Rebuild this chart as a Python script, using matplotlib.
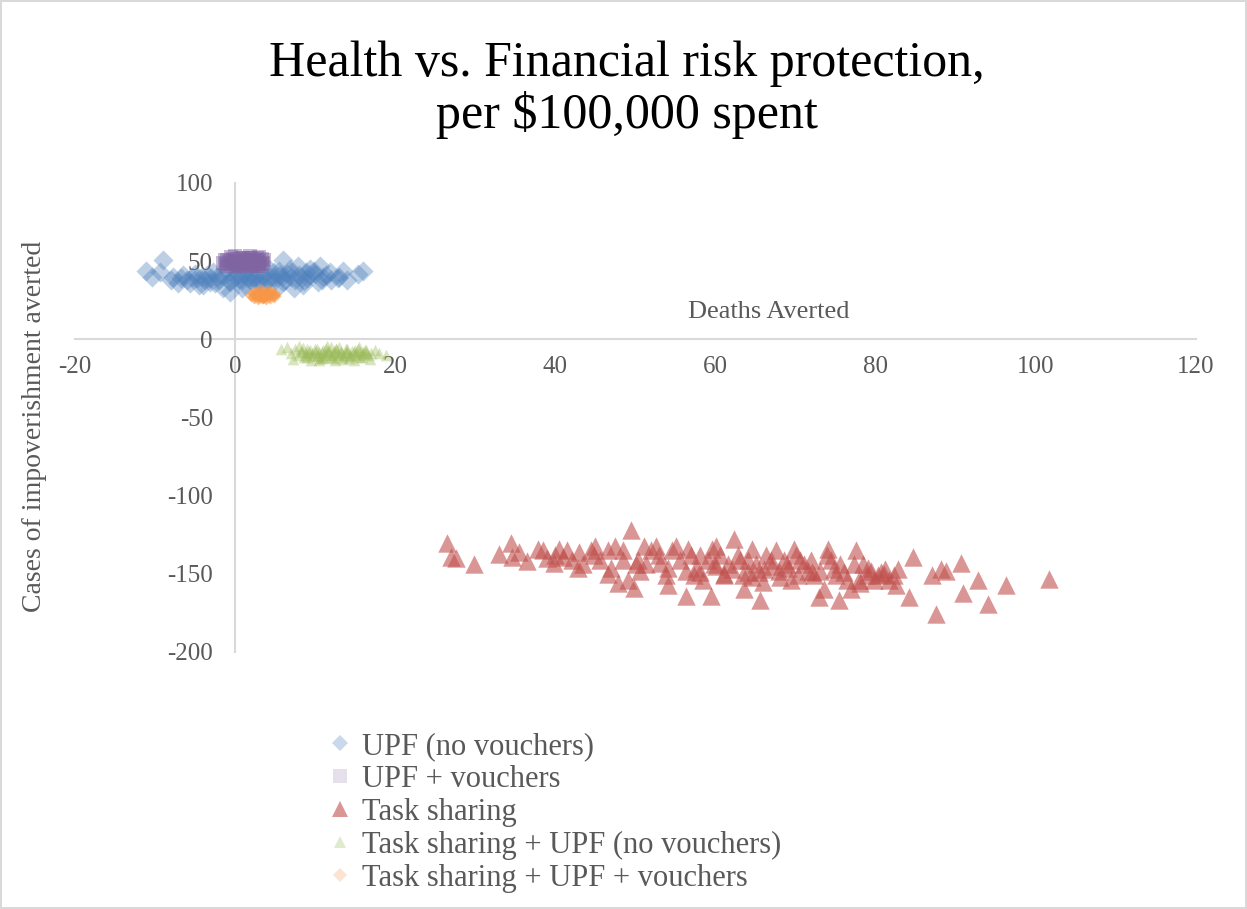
import matplotlib
matplotlib.use("Agg")
import matplotlib.pyplot as plt
from matplotlib.lines import Line2D

plt.rcParams['font.family'] = ['Liberation Serif', 'DejaVu Serif']

# ---------------- data ----------------
upf_x = [-11.1, -10.4, -9.0, -9.4, -7.8, -7.1, -6.5, -5.6, -4.8, -4.0, -3.1, -2.3, -1.5, -0.6, -0.6,
         0.5, 1.2, 2.3, 3.5, 4.8, 6.0, 7.8, 9.4, 10.6, 11.9, 12.8, 13.5, 15.3, 16.0, 8.5, 10.3, 7.3,
         6.0, 4.8, 3.5, 2.3, -5.0, -3.5, -2.0, -1.0, 0.0, 1.0, 2.0, 3.0, 4.0, 5.0, 6.5, 7.0, 8.0,
         9.0, 10.0, 11.0, -6.0, -4.5, -8.0, 1.5, 4.2, 5.5, -2.8, 12.0, 14.0, 6.8, 8.8, -1.2, 0.8,
         5.2, 9.8, -3.8, -2.5, -1.8, -0.3, 0.9, 1.9, 2.8, 3.9, 5.8, 6.2, 7.5, 8.3, 9.2, 10.8,
         -4.2, -3.0, -0.8, 0.4, 1.6, 2.6, 4.4, 5.6, 7.0, 8.6, 11.4, 13.0, -5.4, -6.8]
upf_y = [44, 40, 50.5, 43, 40, 36, 41, 36, 39, 34.5, 36.5, 40, 32.6, 30, 36.5,
         38, 35, 39, 34.5, 40, 50.5, 47, 45, 47, 43, 39, 44, 42, 44, 34.5, 36.5, 32.6,
         36.5, 43, 41, 42, 42, 41, 38, 42, 40, 41, 37, 38, 37, 38, 42, 40, 41,
         39, 42, 40, 38, 35, 38, 44, 45, 44, 43, 38, 38, 45, 43, 45, 33,
         33, 44, 38, 36, 41, 39, 38, 40, 36, 39, 40, 38, 38, 39, 41, 38,
         40, 39, 37, 42, 39, 41, 40, 41, 43, 37, 41, 40, 40, 39]

upfv_x = [-1.5, -1.0, -1.0, -0.5, -0.5, 0.0, 0.0, 0.0, 0.5, 0.5, 1.0, 1.0, 1.0, 1.5, 1.5, 2.0, 2.0,
          2.0, 2.5, 2.5, 3.0, 3.0, 3.0, 3.5, -1.3, 0.3, 1.8, 2.8, 3.3, -0.2, 1.2, 2.2, 0.7,
          -0.8, 0.2, 1.4, 2.4, 3.4, -0.3, 0.9, 1.7, 2.7, 3.6, -1.2, 0.6, 2.1, 3.1]
upfv_y = [49, 47, 51, 48.5, 52.5, 47, 50, 53, 48, 51.5, 47, 49.5, 52, 48, 50.5, 47, 49,
          52, 48.5, 51, 47, 50, 52.5, 49, 50.5, 46.5, 53, 46.7, 51.3, 49, 50.8, 50.2, 49.3,
          49.8, 48.8, 48.7, 49.8, 48.2, 51.2, 52.3, 51.8, 52.0, 51.0, 48.0, 47.5, 47.8, 48.5]

ts_x = [26.5, 26.9, 27.6, 29.8, 33.0, 34.4, 34.6, 36.5, 37.8, 38.5, 38.9, 39.9, 40.4, 39.8, 41.5,
        42.1, 42.8, 43.5, 44.4, 44.8, 45.0, 45.6, 46.6, 46.6, 47.5, 47.8, 48.4, 48.5, 49.4, 49.1,
        49.8, 50.3, 50.6, 51.0, 51.3, 51.9, 52.5, 52.9, 53.8, 54.1, 54.6, 55.0, 55.6, 56.3, 56.6,
        56.9, 57.3, 58.1, 56.3, 58.4, 59.1, 59.6, 59.8, 60.1, 60.6, 59.4, 61.1, 61.6, 62.3, 62.8,
        63.1, 63.4, 63.6, 64.1, 64.6, 65.0, 65.4, 65.6, 65.9, 66.3, 66.9, 67.5, 67.9, 68.5, 68.9,
        69.4, 69.8, 70.0, 70.3, 70.6, 71.1, 71.9, 72.3, 72.9, 73.1, 73.5, 73.9, 74.1, 74.4, 75.0,
        75.4, 75.6, 76.4, 76.9, 77.3, 77.6, 77.9, 78.4, 78.9, 79.4, 79.8, 80.3, 80.6, 81.1, 81.6,
        82.3, 82.8, 82.5, 84.1, 84.6, 87.0, 87.5, 88.1, 88.8, 90.6, 90.9, 92.8, 94.0, 96.3, 101.6,
        43.0, 47.0, 53.0, 57.5, 61.0, 62.0, 64.5, 66.0, 67.0, 69.0, 71.5, 74.8, 76.0, 79.0, 81.0,
        60.0, 58.0, 54.0, 50.0, 64.0, 68.0, 72.0, 78.0, 35.5, 41.0]
ts_y = [-130, -139, -140, -144, -137, -130, -139, -142, -134, -135, -140, -138, -134, -143, -135,
        -141, -146, -144, -135, -138, -132, -141, -135, -150, -132, -156, -135, -141, -122, -154,
        -159, -141, -148, -132, -144, -135, -132, -138, -151, -157, -135, -132, -141, -148, -134,
        -138, -151, -138, -164, -154, -141, -134, -144, -132, -138, -164, -151, -144, -128, -138,
        -141, -151, -160, -141, -134, -144, -149, -167, -155, -138, -141, -135, -148, -141, -144,
        -154, -134, -138, -151, -141, -144, -141, -151, -165, -148, -160, -138, -134, -141, -151,
        -167, -144, -154, -160, -144, -135, -154, -144, -151, -148, -154, -151, -149, -147, -154,
        -151, -147, -157, -165, -139, -151, -176, -147, -148, -143, -162, -154, -169, -157, -153,
        -136, -146, -143, -146, -150, -147, -152, -147, -145, -146, -148, -147, -149, -146, -150,
        -145, -149, -146, -144, -149, -152, -149, -156, -136, -139]

tsu_x = [5.7, 6.5, 7.0, 7.5, 7.8, 8.2, 8.5, 8.8, 9.0, 9.3, 9.6, 10.0, 10.2, 10.5, 10.8, 11.0, 11.3,
         11.6, 12.0, 12.0, 12.3, 12.6, 12.9, 13.2, 13.5, 13.8, 14.0, 14.3, 14.6, 15.0, 15.3, 15.6,
         16.0, 16.3, 16.6, 17.0, 17.5, 18.0, 18.8, 7.2, 9.5, 14.8, 16.8, 11.5, 13.0, 8.0, 10.5,
         12.5, 15.5, 8.4, 9.2, 10.0, 10.8, 11.6, 12.4, 13.2, 14.0, 14.8, 15.6, 16.4, 8.8, 9.6,
         10.4, 11.2, 12.0, 12.8, 13.6, 14.4, 15.2, 16.0, 9.0, 10.2, 11.4, 12.6, 13.8, 15.0, 16.2,
         8.6, 11.0, 13.4, 15.8, 10.6, 12.2, 14.2]
tsu_y = [-6, -5, -8.5, -6.5, -10, -7.5, -5.5, -9, -11.5, -7, -8.8, -6, -10.5, -8, -12, -6.8, -9.5,
         -7.5, -5.2, -11, -8.5, -6.5, -10, -7.8, -12.5, -9, -6, -10.8, -7.3, -9.5, -6.5, -11.5,
         -8, -6.8, -10, -8.5, -7, -9, -10, -12.5, -13.5, -13, -12.5, -4.5, -4.8, -4.5, -13,
         -13.5, -5, -8.0, -8.2, -7.8, -8.4, -8.0, -7.6, -8.3, -8.1, -7.9, -8.2, -8.6, -10.0, -9.8,
         -10.2, -9.9, -10.1, -9.7, -10.3, -9.9, -10.0, -9.6, -6.5, -6.2, -6.4, -6.1, -6.3, -6.6,
         -6.8, -11.2, -11.5, -11.3, -11.0, -12.2, -12.0, -11.8]

tsuv_x = [2.0, 2.3, 2.3, 2.8, 2.8, 2.8, 3.3, 3.3, 3.3, 3.8, 3.8, 3.8, 4.3, 4.3, 4.3, 4.8, 4.8,
          3.0, 3.6, 4.0, 2.5, 3.5]
tsuv_y = [28.5, 27.2, 29.8, 26.5, 28.3, 30.3, 27.3, 29.3, 30.6, 26.3, 28.1, 29.9, 27.0, 28.8,
          30.2, 28.0, 29.2, 28.0, 27.6, 29.0, 28.8, 26.8]

labels = ["UPF (no vouchers)", "UPF + vouchers", "Task sharing",
          "Task sharing + UPF (no vouchers)", "Task sharing + UPF + vouchers"]
x_ticks = [-20, 0, 20, 40, 60, 80, 100, 120]
y_ticks = [-200, -150, -100, -50, 0, 50, 100]

# ---------------- figure ----------------
W, H = 1247, 909
fig = plt.figure(figsize=(W / 100, H / 100), dpi=100)
fig.patch.set_edgecolor('#D9D9D9')
fig.patch.set_linewidth(1.5)

ax = fig.add_axes([75 / W, 1 - 652 / H, (1196 - 75) / W, (652 - 183) / H])
ax.set_xlim(-20, 120)
ax.set_ylim(-200, 100)
ax.patch.set_alpha(0)

c_blue = '#4F81BD'
c_purple = '#8064A2'
c_red = '#C0504D'
c_green = '#9BBB59'
c_orange = '#F79646'

ax.scatter(upf_x, upf_y, marker='D', s=105, color=c_blue, alpha=0.38, linewidths=0, zorder=3)
ax.scatter(upfv_x, upfv_y, marker='s', s=90, color=c_purple, alpha=0.45, linewidths=0, zorder=4)
ax.scatter(ts_x, ts_y, marker='^', s=175, color=c_red, alpha=0.6, linewidths=0, zorder=3)
ax.scatter(tsu_x, tsu_y, marker='^', s=70, color=c_green, alpha=0.38, linewidths=0, zorder=3)
ax.scatter(tsuv_x, tsuv_y, marker='D', s=50, color=c_orange, alpha=0.6, linewidths=0, zorder=4)

for side in ['top', 'right']:
    ax.spines[side].set_visible(False)
ax.spines['left'].set_position(('data', 0))
ax.spines['bottom'].set_position(('data', 0))
for side in ['left', 'bottom']:
    ax.spines[side].set_color('#D9D9D9')
    ax.spines[side].set_linewidth(1.5)
    ax.spines[side].set_zorder(1)

ax.set_xticks(x_ticks)
ax.set_yticks(y_ticks)
ax.set_xticklabels([str(v) for v in x_ticks])
ax.set_yticklabels([str(v) for v in y_ticks])
ax.tick_params(axis='both', length=0, labelsize=18, labelcolor='#595959')
ax.tick_params(axis='x', pad=12)
ax.tick_params(axis='y', pad=16)

ax.text(0.619, 0.725, "Deaths Averted", transform=ax.transAxes, ha='center', va='center',
        fontsize=19, color='#595959')
fig.text(35 / W, 1 - 426 / H, "Cases of impoverishment averted", rotation=90,
         ha='center', va='center', fontsize=20, color='#595959')

fig.text(627 / W, 1 - 90 / H, "Health vs. Financial risk protection,\nper $100,000 spent",
         ha='center', va='center', fontsize=36, color='black', linespacing=1.1)

handles = [
    Line2D([], [], linestyle='none', marker='D', markersize=8, color=c_blue, alpha=0.3, markeredgewidth=0),
    Line2D([], [], linestyle='none', marker='s', markersize=10, color=c_purple, alpha=0.2, markeredgewidth=0),
    Line2D([], [], linestyle='none', marker='^', markersize=11, color=c_red, alpha=0.6, markeredgewidth=0),
    Line2D([], [], linestyle='none', marker='^', markersize=8, color=c_green, alpha=0.3, markeredgewidth=0),
    Line2D([], [], linestyle='none', marker='D', markersize=7, color=c_orange, alpha=0.25, markeredgewidth=0),
]
leg = fig.legend(handles, labels, loc='upper left', bbox_to_anchor=(328 / W, 1 - 732 / H),
                 frameon=False, fontsize=22, handlelength=0.8, handletextpad=0.3,
                 labelspacing=0.13, borderpad=0, borderaxespad=0)
for t in leg.get_texts():
    t.set_color('#595959')

fig.savefig('out.png', dpi=100)
